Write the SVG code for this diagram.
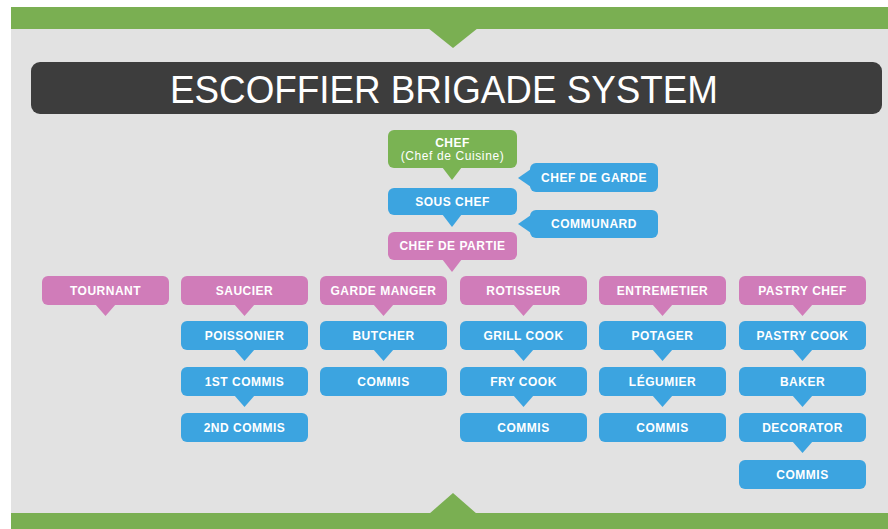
<svg xmlns="http://www.w3.org/2000/svg" width="888" height="529" viewBox="0 0 888 529">
<style>
.bg{fill:#e2e2e2}
.band{fill:#7aaf52}
.g{fill:#7ab353}
.b{fill:#3ca4e0}
.p{fill:#d07cb9}
.t{fill:#ffffff;font-family:"Liberation Sans",Arial,sans-serif;font-weight:bold;font-size:12px;text-anchor:middle;letter-spacing:0.5px}
.sub{font-weight:normal;font-size:12px;letter-spacing:0.6px}
.title{fill:#ffffff;font-family:"Liberation Sans",Arial,sans-serif;font-size:38px;text-anchor:middle}
</style>
<rect x="0" y="0" width="888" height="529" fill="#ffffff"/>
<rect class="bg" x="11" y="7" width="877" height="522"/>
<g id="header">
<rect class="band" x="11" y="7" width="877" height="22"/>
<polygon class="band" points="428,28 478,28 453,48"/>
<rect x="31" y="62" width="851" height="52" rx="9" fill="#3d3d3d"/>
<text class="title" x="444" y="103" textLength="548" lengthAdjust="spacingAndGlyphs">ESCOFFIER BRIGADE SYSTEM</text>
</g>
<g id="footer">
<rect class="band" x="11" y="513" width="877" height="16"/>
<polygon class="band" points="429,514 477,514 453,493"/>
</g>
<g id="connectors">
<polygon class="g" points="442,167 462,167 452,180"/>
<polygon class="b" points="442,214 462,214 452,227"/>
<polygon class="p" points="442,259 462,259 452,272"/>
<polygon class="b" points="531,169 531,187 518,178"/>
<polygon class="b" points="531,215 531,233 518,224"/>
<polygon class="p" points="95,304 116,304 105.5,316"/>
<polygon class="p" points="234,304 255,304 244.5,316"/>
<polygon class="p" points="373,304 394,304 383.5,316"/>
<polygon class="p" points="513,304 534,304 523.5,316"/>
<polygon class="p" points="652,304 673,304 662.5,316"/>
<polygon class="p" points="792,304 813,304 802.5,316"/>
<polygon class="b" points="234,349 255,349 244.5,361"/>
<polygon class="b" points="234,395 255,395 244.5,407"/>
<polygon class="b" points="373,349 394,349 383.5,361"/>
<polygon class="b" points="513,349 534,349 523.5,361"/>
<polygon class="b" points="513,395 534,395 523.5,407"/>
<polygon class="b" points="652,349 673,349 662.5,361"/>
<polygon class="b" points="652,395 673,395 662.5,407"/>
<polygon class="b" points="792,349 813,349 802.5,361"/>
<polygon class="b" points="792,395 813,395 802.5,407"/>
<polygon class="b" points="792,441 813,441 802.5,453"/>
</g>
<g id="chef"><rect class="g" x="388" y="130" width="129" height="38" rx="6"/><text class="t" x="452.5" y="147">CHEF</text><text class="t sub" x="452.5" y="160">(Chef de Cuisine)</text></g>
<g id="chef-de-garde"><rect class="b" x="530" y="163" width="128" height="29" rx="6"/><text class="t" x="594" y="182">CHEF DE GARDE</text></g>
<g id="sous-chef"><rect class="b" x="388" y="188" width="129" height="27" rx="6"/><text class="t" x="452.5" y="206">SOUS CHEF</text></g>
<g id="communard"><rect class="b" x="530" y="210" width="128" height="28" rx="6"/><text class="t" x="594" y="228">COMMUNARD</text></g>
<g id="chef-de-partie"><rect class="p" x="388" y="232" width="129" height="28" rx="6"/><text class="t" x="452.5" y="250">CHEF DE PARTIE</text></g>

<g id="tournant"><rect class="p" x="42" y="276" width="127" height="29" rx="6"/><text class="t" x="105.5" y="295">TOURNANT</text></g>
<g id="saucier"><rect class="p" x="181" y="276" width="127" height="29" rx="6"/><text class="t" x="244.5" y="295">SAUCIER</text></g>
<g id="garde-manger"><rect class="p" x="320" y="276" width="127" height="29" rx="6"/><text class="t" x="383.5" y="295">GARDE MANGER</text></g>
<g id="rotisseur"><rect class="p" x="460" y="276" width="127" height="29" rx="6"/><text class="t" x="523.5" y="295">ROTISSEUR</text></g>
<g id="entremetier"><rect class="p" x="599" y="276" width="127" height="29" rx="6"/><text class="t" x="662.5" y="295">ENTREMETIER</text></g>
<g id="pastry-chef"><rect class="p" x="739" y="276" width="127" height="29" rx="6"/><text class="t" x="802.5" y="295">PASTRY CHEF</text></g>

<g id="poissonier"><rect class="b" x="181" y="321" width="127" height="29" rx="6"/><text class="t" x="244.5" y="340">POISSONIER</text></g>
<g id="first-commis"><rect class="b" x="181" y="367" width="127" height="29" rx="6"/><text class="t" x="244.5" y="386">1ST COMMIS</text></g>
<g id="second-commis"><rect class="b" x="181" y="413" width="127" height="29" rx="6"/><text class="t" x="244.5" y="432">2ND COMMIS</text></g>

<g id="butcher"><rect class="b" x="320" y="321" width="127" height="29" rx="6"/><text class="t" x="383.5" y="340">BUTCHER</text></g>
<g id="garde-commis"><rect class="b" x="320" y="367" width="127" height="29" rx="6"/><text class="t" x="383.5" y="386">COMMIS</text></g>

<g id="grill-cook"><rect class="b" x="460" y="321" width="127" height="29" rx="6"/><text class="t" x="523.5" y="340">GRILL COOK</text></g>
<g id="fry-cook"><rect class="b" x="460" y="367" width="127" height="29" rx="6"/><text class="t" x="523.5" y="386">FRY COOK</text></g>
<g id="rotisseur-commis"><rect class="b" x="460" y="413" width="127" height="29" rx="6"/><text class="t" x="523.5" y="432">COMMIS</text></g>

<g id="potager"><rect class="b" x="599" y="321" width="127" height="29" rx="6"/><text class="t" x="662.5" y="340">POTAGER</text></g>
<g id="legumier"><rect class="b" x="599" y="367" width="127" height="29" rx="6"/><text class="t" x="662.5" y="386">LÉGUMIER</text></g>
<g id="entremetier-commis"><rect class="b" x="599" y="413" width="127" height="29" rx="6"/><text class="t" x="662.5" y="432">COMMIS</text></g>

<g id="pastry-cook"><rect class="b" x="739" y="321" width="127" height="29" rx="6"/><text class="t" x="802.5" y="340">PASTRY COOK</text></g>
<g id="baker"><rect class="b" x="739" y="367" width="127" height="29" rx="6"/><text class="t" x="802.5" y="386">BAKER</text></g>
<g id="decorator"><rect class="b" x="739" y="413" width="127" height="29" rx="6"/><text class="t" x="802.5" y="432">DECORATOR</text></g>
<g id="pastry-commis"><rect class="b" x="739" y="460" width="127" height="29" rx="6"/><text class="t" x="802.5" y="479">COMMIS</text></g>
</svg>
